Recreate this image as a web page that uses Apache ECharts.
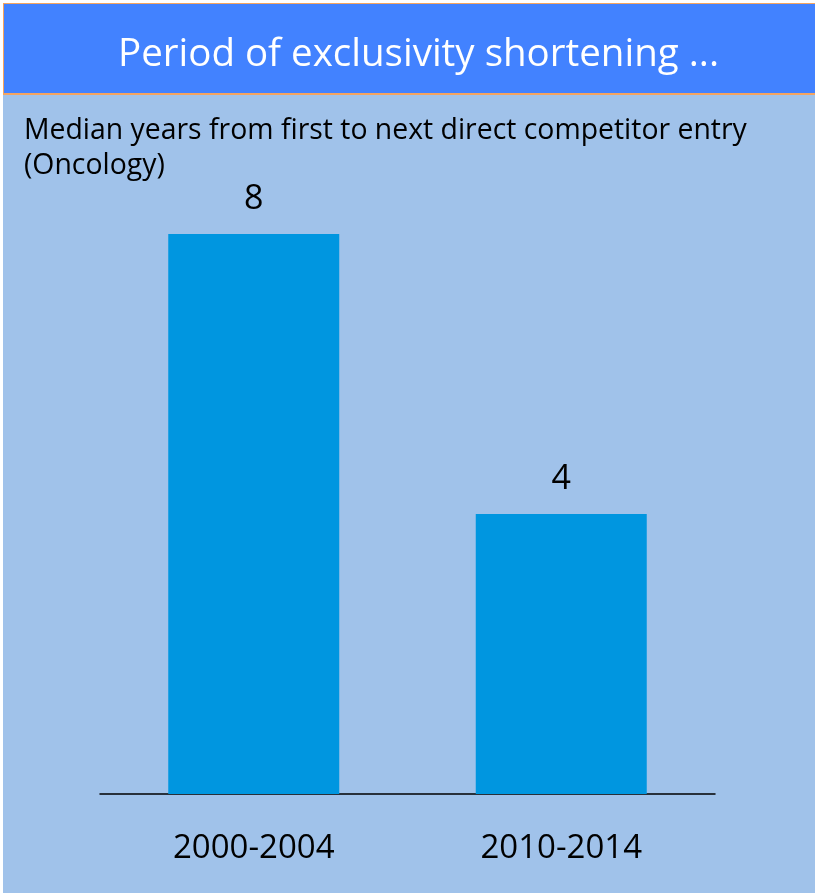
<!DOCTYPE html>
<html>
<head>
<meta charset="utf-8">
<style>
  html, body { margin: 0; padding: 0; background: #ffffff; }
  #chart { width: 815px; height: 893px; }
</style>
<script src="https://cdn.jsdelivr.net/npm/echarts@6/dist/echarts.min.js"></script>
</head>
<body>
<div id="chart"></div>
<script>
// Median years from first to next direct competitor entry (Oncology)
const categories = ['2000-2004', '2010-2014'];
const medianYears = [8, 4];

const chart = echarts.init(document.getElementById('chart'));

chart.setOption({
  backgroundColor: '#a0c2ea',
  animation: false,
  graphic: [
    { type: 'rect', left: 0, top: 0, shape: { width: 3, height: 893 }, style: { fill: '#ffffff' }, z: 10 },
    { type: 'rect', left: 0, top: 0, shape: { width: 815, height: 3 }, style: { fill: '#ffffff' }, z: 10 },
    {
      type: 'rect',
      shape: { x: 3, y: 3, width: 820, height: 91 },
      style: { fill: '#4282ff', stroke: '#f4a460', lineWidth: 2 },
      z: 1
    }
  ],
  title: [
    {
      text: 'Period of exclusivity shortening ...',
      left: 113,
      top: 31,
      textStyle: { color: '#ffffff', fontSize: 38.5, fontWeight: 'normal', fontFamily: 'Open Sans' },
      z: 5
    },
    {
      text: 'Median years from first to next direct competitor entry\n(Oncology)',
      left: 19,
      top: 108,
      textStyle: { color: '#000000', fontSize: 28.4, fontWeight: 'normal', fontFamily: 'Open Sans', lineHeight: 35 }
    }
  ],
  grid: { left: 100, right: 100, top: 234, bottom: 99 },
  xAxis: {
    type: 'category',
    data: categories,
    axisLine: { lineStyle: { color: '#000000', width: 1.5 } },
    axisTick: { show: false },
    axisLabel: { color: '#000000', fontSize: 33, fontFamily: 'Open Sans', margin: 38 }
  },
  yAxis: {
    type: 'value',
    min: 0,
    max: 8,
    show: false,
    splitLine: { show: false }
  },
  series: [{
    type: 'bar',
    data: medianYears,
    barWidth: 171,
    itemStyle: { color: '#0096e0' },
    label: {
      show: true,
      position: 'top',
      distance: 18,
      color: '#000000',
      fontSize: 34,
      fontFamily: 'Open Sans'
    }
  }]
});
</script>
</body>
</html>
